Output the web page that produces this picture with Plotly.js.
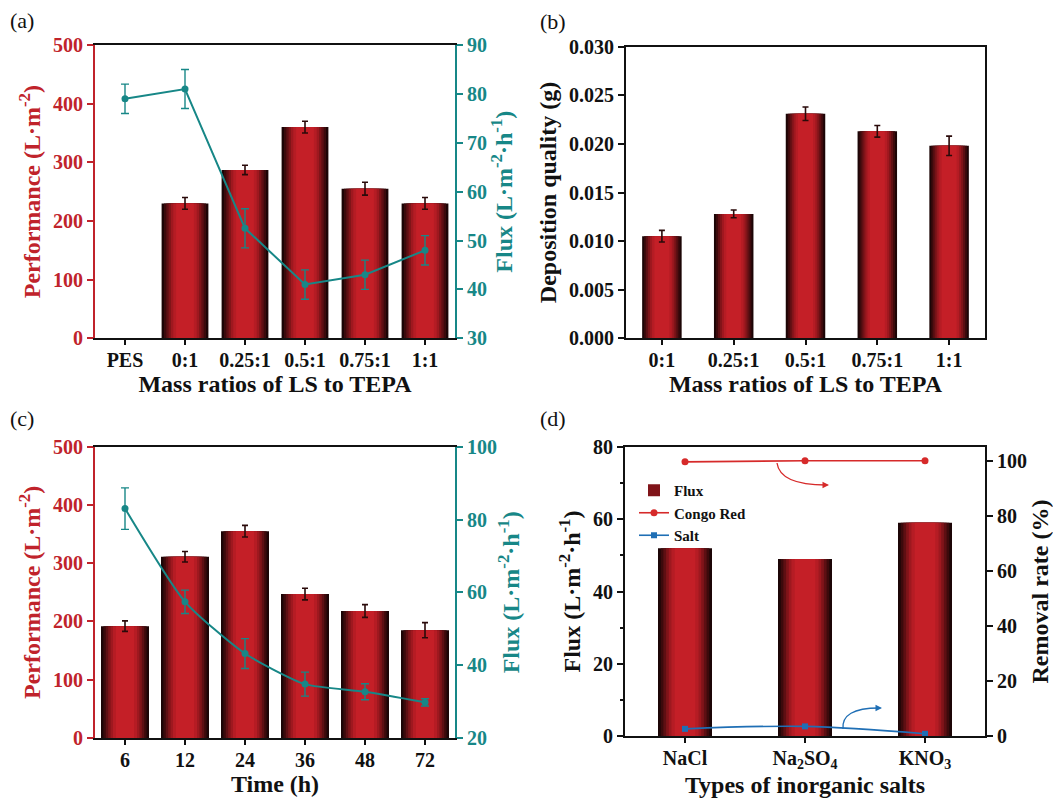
<!DOCTYPE html>
<html>
<head>
<meta charset="utf-8">
<script src="https://cdn.plot.ly/plotly-3.0.1.min.js"></script>
<style>html,body{margin:0;padding:0;background:#fff;}#chart{width:1053px;height:801px;}</style>
</head>
<body>
<div id="chart"></div>
<script>
// ---------------- DATA ----------------
// (a)
const ratioCatsA = ['PES', '0:1', '0.25:1', '0.5:1', '0.75:1', '1:1'];
const perfA      = [null, 230, 287, 360, 255, 230];
const perfErrA   = [0, 10, 8, 10, 11, 10];
const fluxA      = [79, 81, 52.5, 41, 43, 48];
const fluxErrA   = [3, 4, 4, 3, 3, 3];
// (b)
const ratioCatsB = ['0:1', '0.25:1', '0.5:1', '0.75:1', '1:1'];
const depoB      = [0.0105, 0.0128, 0.0231, 0.0213, 0.0198];
const depoErrB   = [0.0006, 0.0004, 0.0007, 0.0006, 0.0010];
// (c)
const timeCats   = ['6', '12', '24', '36', '48', '72'];
const perfC      = [192, 311, 355, 247, 218, 185];
const perfErrC   = [9, 9, 10, 10, 11, 13];
const fluxC      = [83, 57.4, 43.2, 34.8, 32.7, 29.8];
const fluxErrC   = [5.7, 3.2, 4.1, 3.3, 2.2, 1];
// (d)
const saltCats   = ['NaCl', 'Na2SO4', 'KNO3'];
const saltLabels = ['NaCl', 'Na<sub>2</sub>SO<sub>4</sub>', 'KNO<sub>3</sub>'];
const fluxD      = [52, 49, 59];
const congoD     = [99.6, 100, 100];
const saltD      = [2.6, 3.5, 0.8];

// ---------------- STYLE ----------------
const W = 1053, H = 801;
const FONT = 'Liberation Serif, Times New Roman, serif';
const RED = '#c0232b', TEAL = '#178787', BLACK = '#111';
const LAYERS = [[1.0,'#1c0506'],[0.9,'#3c0a0c'],[0.8,'#5e0f13'],[0.7,'#801419'],[0.6,'#9e181f'],[0.5,'#b51c24'],[0.38,'#c41f27']];
const px = x => x / W;
const py = y => 1 - y / H;

const traces = [];
function gradBars(x, y, err, xa, ya, w, legendName) {
  LAYERS.forEach((L, i) => {
    const t = {
      type: 'bar', x: x, y: y, xaxis: xa, yaxis: ya,
      width: w * L[0], marker: {color: L[1], line: {width: 0}},
      showlegend: false, hoverinfo: 'skip'
    };
    if (legendName && i === 3) { t.name = legendName; t.showlegend = true; t.legendrank = 1; }
    if (i === LAYERS.length - 1 && err) {
      t.error_y = {type: 'data', array: err, visible: true, color: '#2a0a0a', thickness: 1.6, width: 3};
    }
    traces.push(t);
  });
}

// (a)
gradBars(ratioCatsA, perfA, perfErrA, 'x', 'y', 0.78);
traces.push({type: 'scatter', mode: 'lines+markers', x: ratioCatsA, y: fluxA, xaxis: 'x', yaxis: 'y2',
  line: {color: TEAL, width: 2}, marker: {color: TEAL, size: 7, symbol: 'circle'},
  error_y: {type: 'data', array: fluxErrA, visible: true, color: TEAL, thickness: 1.4, width: 4}, showlegend: false});
// (b)
gradBars(ratioCatsB, depoB, depoErrB, 'x2', 'y3', 0.55);
// (c)
gradBars(timeCats, perfC, perfErrC, 'x3', 'y4', 0.8);
traces.push({type: 'scatter', mode: 'lines+markers', x: timeCats, y: fluxC, xaxis: 'x3', yaxis: 'y5',
  line: {color: TEAL, width: 2, shape: 'spline', smoothing: 0.6}, marker: {color: TEAL, size: 7, symbol: 'circle'},
  error_y: {type: 'data', array: fluxErrC, visible: true, color: TEAL, thickness: 1.4, width: 4}, showlegend: false});
// (d)
gradBars(saltCats, fluxD, null, 'x4', 'y6', 0.45, 'Flux');
traces.push({type: 'scatter', mode: 'lines+markers', name: 'Congo Red', x: saltCats, y: congoD, xaxis: 'x4', yaxis: 'y7',
  line: {color: '#d62a2a', width: 1.6}, marker: {color: '#d62a2a', size: 7, symbol: 'circle'}, legendrank: 2});
traces.push({type: 'scatter', mode: 'lines+markers', name: 'Salt', x: saltCats, y: saltD, xaxis: 'x4', yaxis: 'y7',
  line: {color: '#1f6fb5', width: 1.6, shape: 'spline'}, marker: {color: '#1f6fb5', size: 6, symbol: 'square'}, legendrank: 3});

const tickF = c => ({family: FONT, size: 20, color: c, weight: 700});
const titleF = c => ({family: FONT, size: 24, color: c, weight: 700});

function xAxis(domain, anchor, cats, title, extra) {
  return Object.assign({
    domain: domain, anchor: anchor, type: 'category', categoryorder: 'array', categoryarray: cats,
    range: [-0.5, cats.length - 0.5], showline: true, linecolor: BLACK, linewidth: 2, mirror: true,
    ticks: 'outside', ticklen: 5, tickwidth: 2, tickcolor: BLACK, showgrid: false, zeroline: false,
    ticklabelstandoff: -2,
    tickfont: tickF(BLACK), title: {text: title, font: titleF(BLACK), standoff: 4}
  }, extra || {});
}
function yAxis(domain, anchor, range, dtick, color, title, side, extra) {
  return Object.assign({
    domain: domain, anchor: anchor, range: range, dtick: dtick, side: side || 'left',
    showline: true, linecolor: color, linewidth: 2, ticks: 'outside', ticklen: 6, tickwidth: 2, tickcolor: color,
    showgrid: false, zeroline: false, tickfont: tickF(color), title: {text: title, font: titleF(color), standoff: 6}
  }, extra || {});
}

const dAx = [px(95), px(455)], dBx = [px(626), px(985)];
const dTop = [py(338.3), py(45)], dTopB = [py(338.3), py(46.7)];
const dBot = [py(738), py(446.7)], dBotD = [py(736), py(447)];

const layout = {
  width: W, height: H, margin: {l: 0, r: 0, t: 0, b: 0},
  paper_bgcolor: '#fff', plot_bgcolor: 'rgba(0,0,0,0)',
  barmode: 'overlay', font: {family: FONT, color: BLACK},
  showlegend: true,
  legend: {x: px(634), y: py(474), xanchor: 'left', yanchor: 'top', bgcolor: 'rgba(0,0,0,0)',
    font: {family: FONT, size: 15, weight: 700, color: BLACK}, tracegroupgap: 0, itemwidth: 30},
  // (a)
  xaxis: xAxis(dAx, 'y', ratioCatsA, 'Mass ratios of LS to TEPA'),
  yaxis: yAxis(dTop, 'x', [0, 500], 100, RED, 'Performance (L·m<sup>-2</sup>)'),
  yaxis2: yAxis(dTop, 'x', [30, 90], 10, TEAL, 'Flux (L·m<sup>-2</sup>·h<sup>-1</sup>)', 'right', {overlaying: 'y'}),
  // (b)
  xaxis2: xAxis(dBx, 'y3', ratioCatsB, 'Mass ratios of LS to TEPA'),
  yaxis3: yAxis(dTopB, 'x2', [0, 0.03], 0.005, BLACK, 'Deposition quality (g)', 'left', {tickformat: '.3f', mirror: true}),
  // (c)
  xaxis3: xAxis(dAx, 'y4', timeCats, 'Time (h)'),
  yaxis4: yAxis(dBot, 'x3', [0, 500], 100, RED, 'Performance (L·m<sup>-2</sup>)'),
  yaxis5: yAxis(dBot, 'x3', [20, 100], 20, TEAL, 'Flux (L·m<sup>-2</sup>·h<sup>-1</sup>)', 'right', {overlaying: 'y4'}),
  // (d)
  xaxis4: xAxis(dBx, 'y6', saltCats, 'Types of inorganic salts', {domain: [px(625), px(985)], tickmode: 'array', tickvals: saltCats, ticktext: saltLabels}),
  yaxis6: yAxis(dBotD, 'x4', [0, 80], 20, BLACK, 'Flux (L·m<sup>-2</sup>·h<sup>-1</sup>)', 'left',
    {minor: {dtick: 10, ticks: 'outside', ticklen: 3, tickwidth: 2, tickcolor: BLACK}}),
  yaxis7: yAxis(dBotD, 'x4', [0, 105], 20, BLACK, 'Removal rate (%)', 'right', {overlaying: 'y6'}),
  annotations: [
    {text: '(a)', x: px(8), y: py(21), xref: 'paper', yref: 'paper', xanchor: 'left', yanchor: 'middle', showarrow: false, font: {family: FONT, size: 22, color: BLACK}},
    {text: '(b)', x: px(538), y: py(22), xref: 'paper', yref: 'paper', xanchor: 'left', yanchor: 'middle', showarrow: false, font: {family: FONT, size: 22, color: BLACK}},
    {text: '(c)', x: px(8), y: py(419), xref: 'paper', yref: 'paper', xanchor: 'left', yanchor: 'middle', showarrow: false, font: {family: FONT, size: 22, color: BLACK}},
    {text: '(d)', x: px(538), y: py(419), xref: 'paper', yref: 'paper', xanchor: 'left', yanchor: 'middle', showarrow: false, font: {family: FONT, size: 22, color: BLACK}},
    {text: '', x: px(829), y: py(485), ax: -6, ay: 0, xref: 'paper', yref: 'paper', showarrow: true, arrowhead: 2, arrowsize: 1, arrowwidth: 1.3, arrowcolor: '#d62a2a'},
    {text: '', x: px(882), y: py(708), ax: -6, ay: 0, xref: 'paper', yref: 'paper', showarrow: true, arrowhead: 2, arrowsize: 1, arrowwidth: 1.3, arrowcolor: '#1f6fb5'}
  ],
  shapes: [
    {type: 'path', xref: 'paper', yref: 'paper', line: {color: '#d62a2a', width: 1.3},
      path: `M ${px(777)},${py(463)} Q ${px(780)},${py(485)} ${px(826)},${py(485)}`},
    {type: 'path', xref: 'paper', yref: 'paper', line: {color: '#1f6fb5', width: 1.3},
      path: `M ${px(843)},${py(729)} Q ${px(841)},${py(708)} ${px(879)},${py(708)}`}
  ]
};

Plotly.newPlot('chart', traces, layout, {staticPlot: true, displayModeBar: false});
</script>
</body>
</html>
